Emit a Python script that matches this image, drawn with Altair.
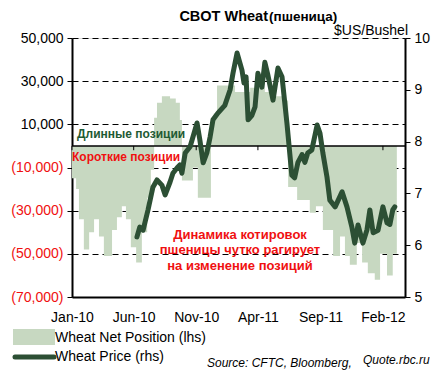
import altair as alt
import pandas as pd

# ---------------- data ----------------
pos_dates = ["2010-01-01","2010-01-11","2010-01-18","2010-01-30","2010-02-12","2010-02-24","2010-03-08",
             "2010-03-20","2010-04-09","2010-04-21","2010-05-03","2010-05-13","2010-05-25","2010-06-07",
             "2010-06-21","2010-07-04","2010-07-13","2010-07-21","2010-07-28","2010-08-09","2010-08-29",
             "2010-09-12","2010-09-22","2010-09-27","2010-10-24","2010-11-05","2010-12-07","2010-12-14",
             "2010-12-22","2011-02-04","2011-03-13","2011-04-18","2011-05-13","2011-05-30","2011-06-14",
             "2011-07-06","2011-08-06","2011-08-21","2011-09-07","2011-10-02","2011-10-19","2011-10-31",
             "2011-11-12","2011-11-29","2011-12-12","2011-12-26","2012-01-12","2012-01-25","2012-02-11",
             "2012-02-25","2012-03-06"]
pos_values = [-15000,-20000,-34000,-48000,-40000,-34000,-42000,-51000,-39000,-33000,-28000,-34000,
              -47000,-54000,-40000,-24000,-11000,13000,20000,23000,22000,20000,12000,-16000,-10000,
              -24000,8000,15000,28000,25000,27000,25000,23000,21000,-19000,-25000,-31000,-28000,-39000,
              -51000,-42000,-51000,-55000,-45000,-54000,-59000,-62000,-50000,-60000,-50000,-50000]

price_dates = ["2010-06-09","2010-06-16","2010-06-24","2010-07-06","2010-07-18","2010-07-28","2010-08-09",
               "2010-08-17","2010-08-29","2010-09-05","2010-09-15","2010-09-22","2010-09-27","2010-10-05",
               "2010-10-17","2010-10-24","2010-11-03","2010-11-10","2010-11-18","2010-11-27","2010-12-05",
               "2010-12-12","2010-12-24","2011-01-10","2011-01-23","2011-01-30","2011-02-09","2011-02-21",
               "2011-02-26","2011-03-03","2011-03-08","2011-03-17","2011-03-25","2011-04-01","2011-04-11",
               "2011-04-18","2011-04-25","2011-05-08","2011-05-20","2011-05-30","2011-06-11","2011-06-23",
               "2011-06-30","2011-07-08","2011-07-18","2011-07-25","2011-08-01","2011-08-11","2011-08-24",
               "2011-08-31","2011-09-07","2011-09-17","2011-09-24","2011-10-07","2011-10-24","2011-11-05",
               "2011-11-17","2011-11-24","2011-12-02","2011-12-14","2011-12-24","2011-12-31","2012-01-08",
               "2012-01-20","2012-02-01","2012-02-11","2012-02-18","2012-02-25","2012-03-01"]
price_values = [6.16,6.35,6.29,6.68,7.12,7.26,7.16,6.97,7.22,7.39,7.49,7.55,7.39,7.78,7.9,8.09,8.36,8.03,
                7.59,7.78,8.09,8.42,8.55,8.7,9.0,9.32,9.71,9.38,9.13,9.25,8.42,8.5,8.67,9.32,9.05,9.53,9.3,
                8.8,9.42,9.25,8.36,7.35,7.3,7.6,7.75,7.6,7.78,7.84,8.32,8.16,7.78,7.32,6.87,6.74,7.03,6.74,
                6.35,6.04,6.39,6.04,6.3,6.68,6.24,6.29,6.74,6.43,6.4,6.68,6.74]

tick_dates = ["2010-01-01","2010-06-01","2010-11-01","2011-04-01","2011-09-01","2012-02-01"]
left_ticks = [50000, 30000, 10000, -10000, -30000, -50000, -70000]
right_ticks = [5, 6, 7, 8, 9, 10]

title_main = "CBOT Wheat"
title_sub = "(пшеница)"
unit_label = "$US/Bushel"
long_label = "Длинные позиции"
short_label = "Короткие позиции"
note_lines = ["Динамика котировок", "пшеницы чутко рагирует", "на изменение позиций"]
legend_area = "Wheat Net Position (lhs)"
legend_line = "Wheat Price (rhs)"
source_text = "Source:  CFTC, Bloomberg,"
site_text = "Quote.rbc.ru"

# ---------------- styling ----------------
FONT = "Liberation Sans"
AREA_C = "#c7d8c1"
LINE_C = "#2c4f34"
RED = "#f01010"
GREEN_T = "#1e5a33"

pos_df = pd.DataFrame({"date": pos_dates, "v": pos_values})
price_df = pd.DataFrame({"date": price_dates, "p": price_values})
tick_df = pd.DataFrame({"date": tick_dates, "v": [0] * len(tick_dates), "v2": [-2000] * len(tick_dates)})
zero_df = pd.DataFrame({"v": [0]})

def dt(s):
    y, m, d = (int(t) for t in s.split("-"))
    return alt.DateTime(year=y, month=m, date=d, utc=True)

xscale = alt.Scale(type="utc", domain=[dt("2010-01-01"), dt("2012-03-26")], nice=False)
xaxis = alt.Axis(values=[dt(s) for s in tick_dates], labelExpr="utcFormat(datum.value, '%b-%y')",
                 title=None, labelFontSize=14, labelFont=FONT, labelColor="#000",
                 ticks=False, labelPadding=13, domainColor="#000", domainWidth=2,
                 grid=False, labelOverlap=False, labelFlush=False, labelBound=False)
X = alt.X("date:T", scale=xscale, axis=xaxis)

YL = alt.Y("v:Q", scale=alt.Scale(domain=[-70000, 50000], nice=False, zero=False),
           axis=alt.Axis(orient="left", values=left_ticks, title=None,
                         labelExpr="datum.value < 0 ? '(' + format(-datum.value, ',') + ')' : format(datum.value, ',')",
                         labelColor={"condition": {"test": "datum.value < 0", "value": RED}, "value": "#000"},
                         labelFontSize=14, labelFont=FONT, tickSize=5, tickColor="#000",
                         labelPadding=4, domainColor="#000", domainWidth=2,
                         grid=True, gridColor="#000", gridDash=[6, 4], gridWidth=1))

area = alt.Chart(pos_df).mark_area(interpolate="step-after", color=AREA_C, opacity=1).encode(x=X, y=YL)
zero = alt.Chart(zero_df).mark_rule(color="#000", strokeWidth=1.5).encode(y=YL)
xt = alt.Chart(tick_df).mark_rule(color="#000", strokeWidth=1).encode(x=X, y=YL, y2="v2:Q")

left = alt.layer(area, zero, xt)

line = alt.Chart(price_df).mark_line(color=LINE_C, strokeWidth=5, strokeJoin="round", strokeCap="round").encode(
    x=X,
    y=alt.Y("p:Q", scale=alt.Scale(domain=[5, 10], nice=False, zero=False),
            axis=alt.Axis(orient="right", values=right_ticks, title=None, labelFontSize=14,
                          labelFont=FONT, labelColor="#000", tickSize=5, tickColor="#000",
                          labelPadding=4, domainColor="#000", domainWidth=2, grid=False)),
)

base = alt.layer(left, line).resolve_scale(y="independent")

one = pd.DataFrame({"a": [0]})

def txt(text, x, y, size, color="#000", weight="normal", style="normal", align="left", baseline="middle"):
    return alt.Chart(pd.DataFrame({"t": [text]})).mark_text(
        font=FONT, fontSize=size, color=color, fontWeight=weight, fontStyle=style,
        align=align, baseline=baseline
    ).encode(text="t:N", x=alt.value(x), y=alt.value(y))

texts = [
    txt(title_main, 196, -17, 14.5, weight="bold", align="right", baseline="alphabetic"),
    txt(title_sub, 197, -17, 13.5, weight="bold", baseline="alphabetic"),
    txt(unit_label, 336, -7, 14, align="right"),
    txt(long_label, 5, 96, 12, color=GREEN_T, weight="bold"),
    txt(short_label, 0, 119, 12, color=RED, weight="bold"),
    txt(note_lines[0], 168, 197, 13, color=RED, weight="bold", align="center"),
    txt(note_lines[1], 168, 212, 13, color=RED, weight="bold", align="center"),
    txt(note_lines[2], 168, 228, 13, color=RED, weight="bold", align="center"),
    txt(legend_area, -17, 300, 14),
    txt(legend_line, -17, 319, 14),
    txt(source_text, 135, 325, 12, style="italic"),
    txt(site_text, 291, 322, 12, style="italic"),
]

swatch_area = alt.Chart(one).mark_rect(color=AREA_C).encode(
    x=alt.value(-59), x2=alt.value(-17), y=alt.value(291), y2=alt.value(307)
)
swatch_line = alt.Chart(one).mark_rule(color=LINE_C, strokeWidth=5, strokeCap="round").encode(
    x=alt.value(-57), x2=alt.value(-18), y=alt.value(319)
)

chart = alt.layer(base, swatch_area, swatch_line, *texts).properties(
    width=333, height=259,
    padding={"left": 64, "top": 30, "right": 28, "bottom": 80},
    autosize=alt.AutoSizeParams(type="none"),
).configure_view(stroke="#888", strokeWidth=1).configure(background="#ffffff")

chart.save("out.html", embed_options={"renderer": "svg", "actions": False})
